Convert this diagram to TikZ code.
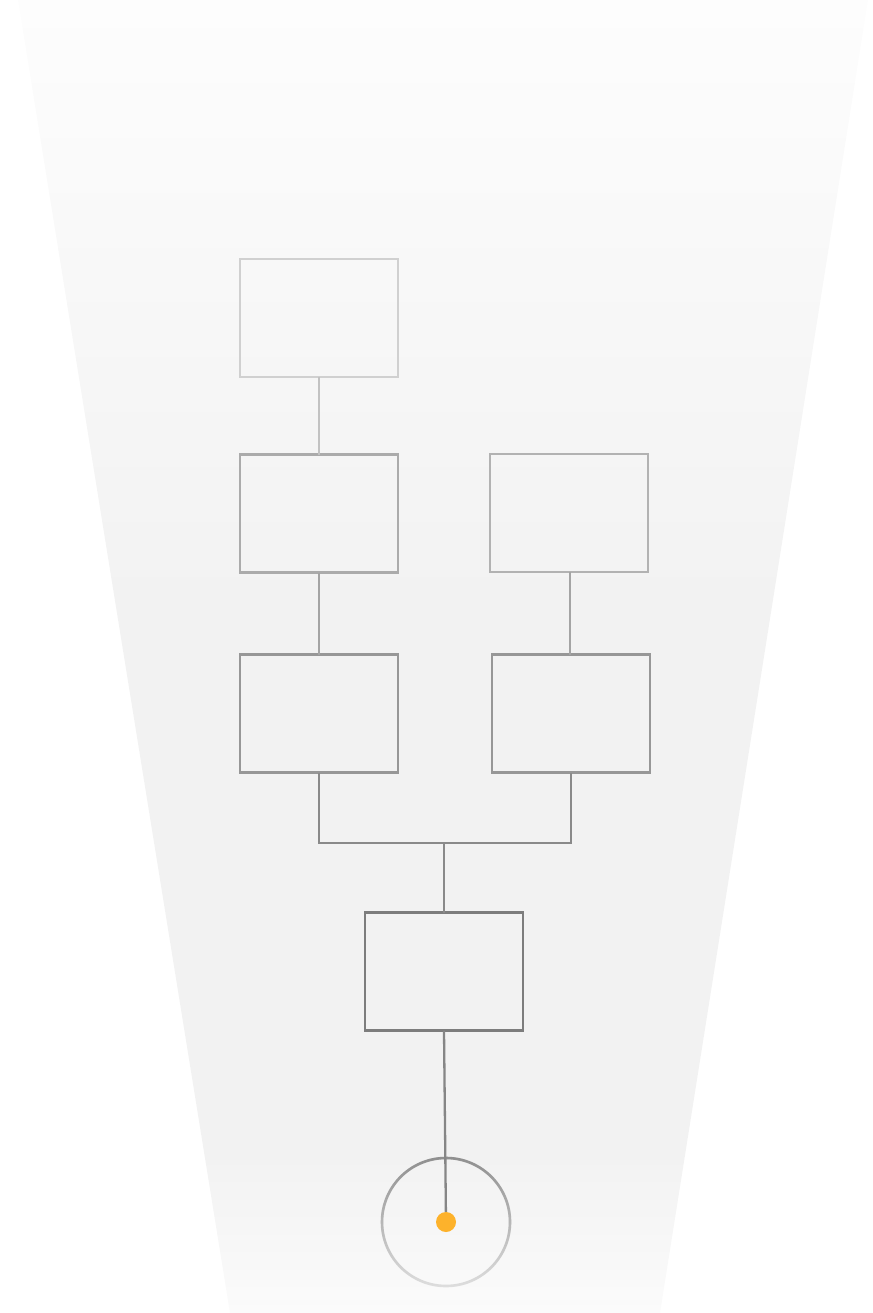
\documentclass[tikz,border=0pt]{standalone}
\usetikzlibrary{calc,fadings}
\definecolor{bgtop}{HTML}{FDFDFD}
\definecolor{bgmid}{HTML}{F2F2F2}
\definecolor{bgbot}{HTML}{FBFBFB}
\definecolor{cA}{HTML}{D0D0D0}
\definecolor{cAB}{HTML}{C2C2C2}
\definecolor{cB}{HTML}{ABABAB}
\definecolor{cC}{HTML}{B2B2B2}
\definecolor{cBC}{HTML}{A4A4A4}
\definecolor{cD}{HTML}{979797}
\definecolor{cE}{HTML}{8A8A8A}
\definecolor{cF}{HTML}{7D7D7D}
\definecolor{cG}{HTML}{868686}
\definecolor{ringtop}{HTML}{909090}
\definecolor{ringbot}{HTML}{DEDEDE}
\definecolor{dotc}{HTML}{FDB22B}
\pgfdeclareverticalshading{bgshade}{100bp}{color(0bp)=(bgbot); color(25bp)=(bgbot); color(31bp)=(bgmid); color(52bp)=(bgmid); color(75bp)=(bgtop); color(100bp)=(bgtop)}
\tikzset{
  box/.style={draw, rectangle, line width=2.3pt, minimum width=158pt, minimum height=118pt, inner sep=0pt, outer sep=0pt},
  link/.style={line width=2.3pt},
  dotnode/.style={circle, fill=dotc, minimum size=20pt, inner sep=0pt},
}
\begin{document}
\begin{tikzpicture}[x=1pt,y=-1pt]
\useasboundingbox (0,0) rectangle (872,1313);
\shade[shading=bgshade] (18,0) -- (868,0) -- (660,1313) -- (230,1313) -- cycle;
% boxes
\node[box, draw=cA] (b1) at (319,318) {};
\node[box, draw=cB] (b2) at (319,513.5) {};
\node[box, draw=cC] (b3) at (569,513) {};
\node[box, draw=cD] (b4) at (319,713.5) {};
\node[box, draw=cD] (b5) at (571,713.5) {};
\node[box, draw=cF] (b6) at (444,971.5) {};
% ring and dot
\coordinate (cc) at (446,1222);
\node[circle, minimum size=128pt, inner sep=0pt] (ring) at (cc) {};
\draw[ringbot, line width=2.6pt] (cc) circle (64);
\draw[ringtop, line width=2.6pt, path fading=south] (cc) circle (64);
% connectors
\draw[link, cAB] (b1.south) -- (b2.north);
\draw[link, cBC] (b2.south) -- (b4.north);
\draw[link, cBC] (b3.south -| 570,0) -- (b5.north -| 570,0);
\coordinate (fork) at (444,843);
\draw[link, cE] (b4.south) |- (fork) -| (b5.south);
\draw[link, cE] (fork) -- (b6.north);
\draw[link, cG] (b6.south) -- (cc);
\node[dotnode] (dot) at (cc) {};
\end{tikzpicture}
\end{document}
